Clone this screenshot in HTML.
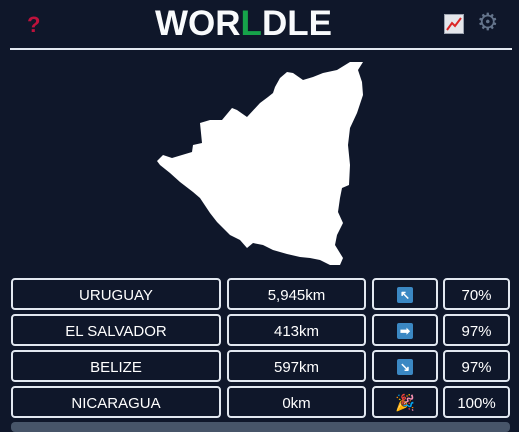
<!DOCTYPE html>
<html><head><meta charset="utf-8"><style>
body{margin:0;width:519px;height:426px;background:#0f172a;font-family:"Liberation Sans",sans-serif;overflow:hidden;position:relative;color:#fff}
.abs{position:absolute}
.cell{position:absolute;height:32px;border:2px solid #e2e8f0;border-radius:4px;box-sizing:border-box;display:flex;align-items:center;justify-content:center;font-size:15px;padding-top:2px}
.arrow{width:16px;height:16px;background:#3b88c3;border-radius:2px;display:flex;align-items:center;justify-content:center;color:#fff;font-size:12px;font-weight:bold}
</style></head><body>
<div class="abs" style="left:27px;top:12px;color:#be123c;font-size:22px;font-weight:bold">?</div>
<div class="abs" style="left:155px;top:4px;font-size:35px;line-height:40px;font-weight:bold;color:#f8fafc">WOR<span style="color:#16a34a">L</span>DLE</div>
<svg class="abs" style="left:444px;top:14px" width="20" height="20"><rect x="0.5" y="0.5" width="19" height="19" fill="#e5e7eb" stroke="#9ca3af"/><polyline points="3,16 8,9 11,12 17,4" fill="none" stroke="#dc2626" stroke-width="2"/></svg>
<div class="abs" style="left:477px;top:8px;color:#64748b;font-size:24px">⚙</div>
<div class="abs" style="left:10px;top:48px;width:502px;height:2px;background:#e2e8f0"></div>
<svg class="abs" style="left:0;top:0" width="519" height="280"><polygon fill="#fff" points="157,161 163,155 172,158 192,152 193,145 202,143 200,123 210,120 222,120 232,108 237,110 247,117 260,103 268,97 273,93 275,87 280,78 287,72 293,73 303,80 313,77 323,73 337,70 350,62 363,62 358,70 362,82 363,95 357,113 350,128 348,145 350,165 349,185 342,188 340,198 338,212 343,223 337,235 335,245 343,258 340,265 330,265 320,260 310,258 300,257 287,254 273,250 263,245 253,243 247,248 240,240 230,235 217,222 210,213 200,198 193,192 180,182 170,173 160,165"/></svg>
<div class="cell" style="left:11px;top:278px;width:210px">URUGUAY</div>
<div class="cell" style="left:227px;top:278px;width:139px">5,945km</div>
<div class="cell" style="left:372px;top:278px;width:66px"><div class="arrow">↖</div></div>
<div class="cell" style="left:443px;top:278px;width:67px">70%</div>
<div class="cell" style="left:11px;top:314px;width:210px">EL SALVADOR</div>
<div class="cell" style="left:227px;top:314px;width:139px">413km</div>
<div class="cell" style="left:372px;top:314px;width:66px"><div class="arrow">➡</div></div>
<div class="cell" style="left:443px;top:314px;width:67px">97%</div>
<div class="cell" style="left:11px;top:350px;width:210px">BELIZE</div>
<div class="cell" style="left:227px;top:350px;width:139px">597km</div>
<div class="cell" style="left:372px;top:350px;width:66px"><div class="arrow">↘</div></div>
<div class="cell" style="left:443px;top:350px;width:67px">97%</div>
<div class="cell" style="left:11px;top:386px;width:210px">NICARAGUA</div>
<div class="cell" style="left:227px;top:386px;width:139px">0km</div>
<div class="cell" style="left:372px;top:386px;width:66px"><span style="color:#e11d48;font-size:16px">🎉</span></div>
<div class="cell" style="left:443px;top:386px;width:67px">100%</div>
<div class="abs" style="left:11px;top:422px;width:499px;height:10px;background:#475569;border-radius:4px"></div>
</body></html>
